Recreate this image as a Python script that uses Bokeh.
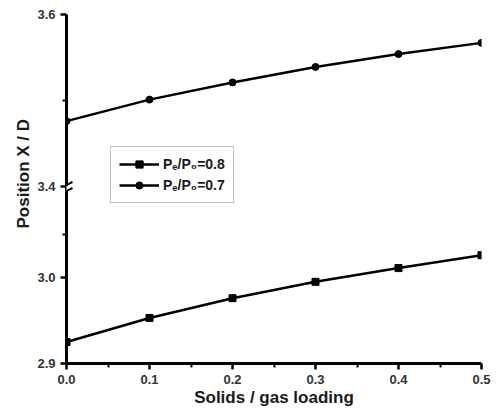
import numpy as np
from bokeh.plotting import figure
from bokeh.models import Range1d, FixedTicker, Title, Arrow, PrintfTickFormatter
from bokeh.embed import file_html
from bokeh.resources import INLINE

# ---------------- data ----------------
loading = [0.0, 0.1, 0.2, 0.3, 0.4, 0.5]
pos_08 = [2.925, 2.953, 2.976, 2.995, 3.011, 3.026]   # Pe/P0 = 0.8 (squares)
pos_07 = [3.476, 3.501, 3.521, 3.539, 3.554, 3.567]   # Pe/P0 = 0.7 (circles)
label_08 = "Pₑ/P₀=0.8"
label_07 = "Pₑ/P₀=0.7"
lower_ticks = [2.9, 3.0]
lower_minor = [3.05]
upper_ticks = [3.4, 3.6]
upper_minor = [3.5]
x_title = "Solids / gas loading"
y_title = "Position X / D"

# ---------------- broken-axis geometry ----------------
LOW = (2.9, 3.1)      # lower segment of the y axis
UP = (3.4, 3.6)       # upper segment of the y axis
GAP = 0.006           # small gap between the segments (main-range units)
shift = UP[0] - (LOW[1] + GAP)          # upper value -> main value: u - shift
main_end = UP[1] - shift

W, H = 498, 410
BL, BR, BT, BB = 66, 17, 14, 47
fw, fh = W - BL - BR, H - BT - BB

FONT = "Liberation Sans"

p = figure(width=W, height=H, x_range=Range1d(0, 0.5),
           y_range=Range1d(LOW[0], main_end),
           output_backend="svg", toolbar_location=None,
           min_border_left=BL, min_border_right=BR,
           min_border_top=BT, min_border_bottom=BB)
p.extra_y_ranges = {"upper": Range1d(LOW[0] + shift, UP[1])}
p.grid.visible = False
p.outline_line_color = None
p.background_fill_color = "white"
p.border_fill_color = "white"

# ---------------- series ----------------
p.line(loading, pos_08, line_color="black", line_width=2.5, legend_label=label_08)
p.scatter(loading, pos_08, marker="square", size=7, color="black", legend_label=label_08)
p.line(loading, pos_07, y_range_name="upper", line_color="black", line_width=2.5,
       legend_label=label_07)
p.scatter(loading, pos_07, y_range_name="upper", marker="circle", size=7, color="black",
          legend_label=label_07)

# ---------------- axes ----------------
for ax in (p.xaxis[0], p.yaxis[0]):
    ax.axis_line_width = 3
    ax.axis_line_color = "black"
    ax.major_tick_line_width = 2.5
    ax.minor_tick_line_width = 2
    ax.major_tick_in = 0
    ax.major_tick_out = 6
    ax.minor_tick_in = 0
    ax.minor_tick_out = 4
    ax.major_label_text_font = FONT
    ax.major_label_text_font_style = "bold"
    ax.major_label_text_font_size = "13px"
    ax.major_label_text_color = "#333333"
    ax.major_label_standoff = 5

xa = p.xaxis[0]
xa.ticker = FixedTicker(ticks=loading,
                        minor_ticks=[(a + b) / 2 for a, b in zip(loading, loading[1:])])
xa.formatter = PrintfTickFormatter(format="%.1f")
xa.axis_label = x_title
xa.axis_label_text_font = FONT
xa.axis_label_text_font_style = "bold"
xa.axis_label_text_font_size = "17px"
xa.axis_label_text_color = "#1a1a1a"
xa.axis_label_standoff = 1

ya = p.yaxis[0]
up_major = [u - shift for u in upper_ticks]
up_minor = [u - shift for u in upper_minor]
ya.ticker = FixedTicker(ticks=lower_ticks + up_major, minor_ticks=lower_minor + up_minor)
overrides = {}
for t in lower_ticks:
    overrides[t] = f"{t:.1f}"
for t, u in zip(up_major, upper_ticks):
    overrides[t] = f"{u:.1f}"
ya.major_label_overrides = overrides

# y-axis title placed slightly above the frame centre, as in the reference
p.add_layout(Title(text=y_title, align="left", offset=135, vertical_align="middle",
                   text_font=FONT, text_font_style="bold", text_font_size="17px",
                   text_color="#1a1a1a", standoff=2), "left")

# ---------------- axis break marks (in the left panel so they are not clipped) ----------------
dxp = 0.5 / fw
dyp = (main_end - LOW[0]) / fh
yb = LOW[1] + GAP / 2
p.add_layout(Arrow(end=None, x_start=0, x_end=0,
                   y_start=yb - 1.5 * dyp, y_end=yb + 3.0 * dyp,
                   line_color="white", line_width=6), "left")
for dy0 in (0.0, -6.0):
    p.add_layout(Arrow(end=None,
                       x_start=-8 * dxp, y_start=yb + dy0 * dyp,
                       x_end=6 * dxp, y_end=yb + (dy0 + 7) * dyp,
                       line_color="black", line_width=2), "left")

# ---------------- legend ----------------
lg = p.legend[0]
lg.location = (44, 160)
lg.margin = 0
lg.padding = 8
lg.spacing = 3
lg.glyph_width = 40
lg.glyph_height = 18
lg.label_height = 18
lg.label_standoff = 4
lg.label_text_font = FONT
lg.label_text_font_style = "bold"
lg.label_text_font_size = "14px"
lg.label_text_color = "#1a1a1a"
lg.border_line_color = "#808080"
lg.border_line_width = 1.5
lg.background_fill_color = "white"
lg.background_fill_alpha = 1.0

open("out.html", "w").write(file_html(p, INLINE))
